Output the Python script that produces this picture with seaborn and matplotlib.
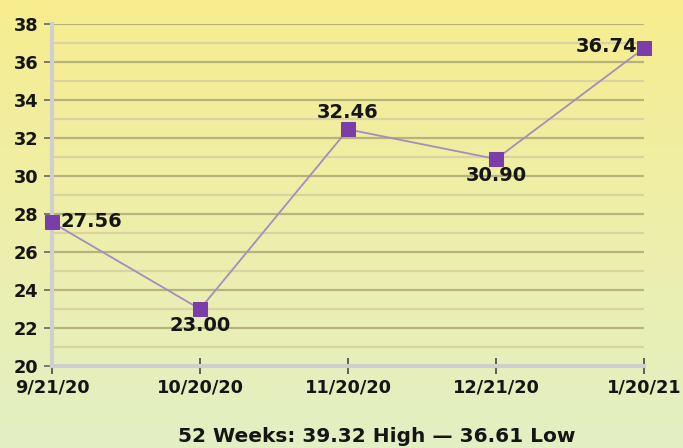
import numpy as np
import matplotlib.pyplot as plt
import seaborn as sns
import pandas as pd

# Data
dates = ['9/21/20', '10/20/20', '11/20/20', '12/21/20', '1/20/21']
prices = [27.56, 23.00, 32.46, 30.90, 36.74]
label_pos = ['right', 'below', 'above', 'below', 'left']
footer = '52 Weeks: 39.32 High \u2014 36.61 Low'

df = pd.DataFrame({'pos': range(len(dates)), 'price': prices})

sns.set_style('white')
plt.rcParams['font.family'] = ['DejaVu Sans']

fig = plt.figure(figsize=(6.83, 4.48), dpi=100)

# gradient background, yellow at top to pale green at bottom
bg = fig.add_axes([0, 0, 1, 1], zorder=-10)
grad = np.linspace(0, 1, 256).reshape(-1, 1)
top = np.array([0.97, 0.93, 0.56])
bot = np.array([0.89, 0.94, 0.77])
img = top[None, None, :] * (1 - grad[:, :, None]) + bot[None, None, :] * grad[:, :, None]
bg.imshow(img, aspect='auto', extent=[0, 1, 0, 1])
bg.axis('off')

ax = fig.add_axes([0.0761, 0.183, 0.867, 0.763])
ax.patch.set_alpha(0)

# gridlines
for v in range(21, 39):
    c = '#b8b27c' if v % 2 == 0 else '#d9d3a2'
    ax.axhline(v, color=c, lw=1.6, zorder=1)

sns.lineplot(data=df, x='pos', y='price', ax=ax, color='#a58cc0', lw=1.3,
             marker='s', markersize=9.5, markerfacecolor='#7a3ea8',
             markeredgecolor='#7a3ea8', zorder=3, clip_on=False)

for i, (p, where) in enumerate(zip(prices, label_pos)):
    kw = dict(fontsize=14, fontweight='bold', color='#151515', zorder=4)
    if where == 'right':
        ax.annotate(f'{p:.2f}', (i, p), xytext=(6, 1), textcoords='offset points',
                    ha='left', va='center', **kw)
    elif where == 'left':
        ax.annotate(f'{p:.2f}', (i, p), xytext=(-5, 1), textcoords='offset points',
                    ha='right', va='center', **kw)
    elif where == 'above':
        ax.annotate(f'{p:.2f}', (i, p), xytext=(0, 5), textcoords='offset points',
                    ha='center', va='bottom', **kw)
    else:
        ax.annotate(f'{p:.2f}', (i, p), xytext=(0, -5), textcoords='offset points',
                    ha='center', va='top', **kw)

ax.set_xlim(0, 4)
ax.set_ylim(20, 38)
ax.set_xticks(range(len(dates)))
ax.set_xticklabels(dates)
ax.set_yticks(range(20, 39, 2))
ax.tick_params(left=True, bottom=True)
ax.tick_params(axis='both', labelsize=12.8, labelcolor='#151515', width=1.2)
ax.tick_params(axis='x', direction='inout', length=12, pad=3, color='#444444')
ax.tick_params(axis='y', direction='out', length=6, color='#666666', pad=4)
for lab in ax.get_xticklabels() + ax.get_yticklabels():
    lab.set_fontweight('bold')
ax.set_xlabel('')
ax.set_ylabel('')

for s in ['top', 'right']:
    ax.spines[s].set_visible(False)
for s in ['left', 'bottom']:
    ax.spines[s].set_color('#cfcfcf')
    ax.spines[s].set_linewidth(3)
    ax.spines[s].set_zorder(2)

fig.text(0.552, 0.025, footer, ha='center', va='center', fontsize=14.5,
         fontweight='bold', color='#151515')

fig.savefig('out.png', dpi=100)
